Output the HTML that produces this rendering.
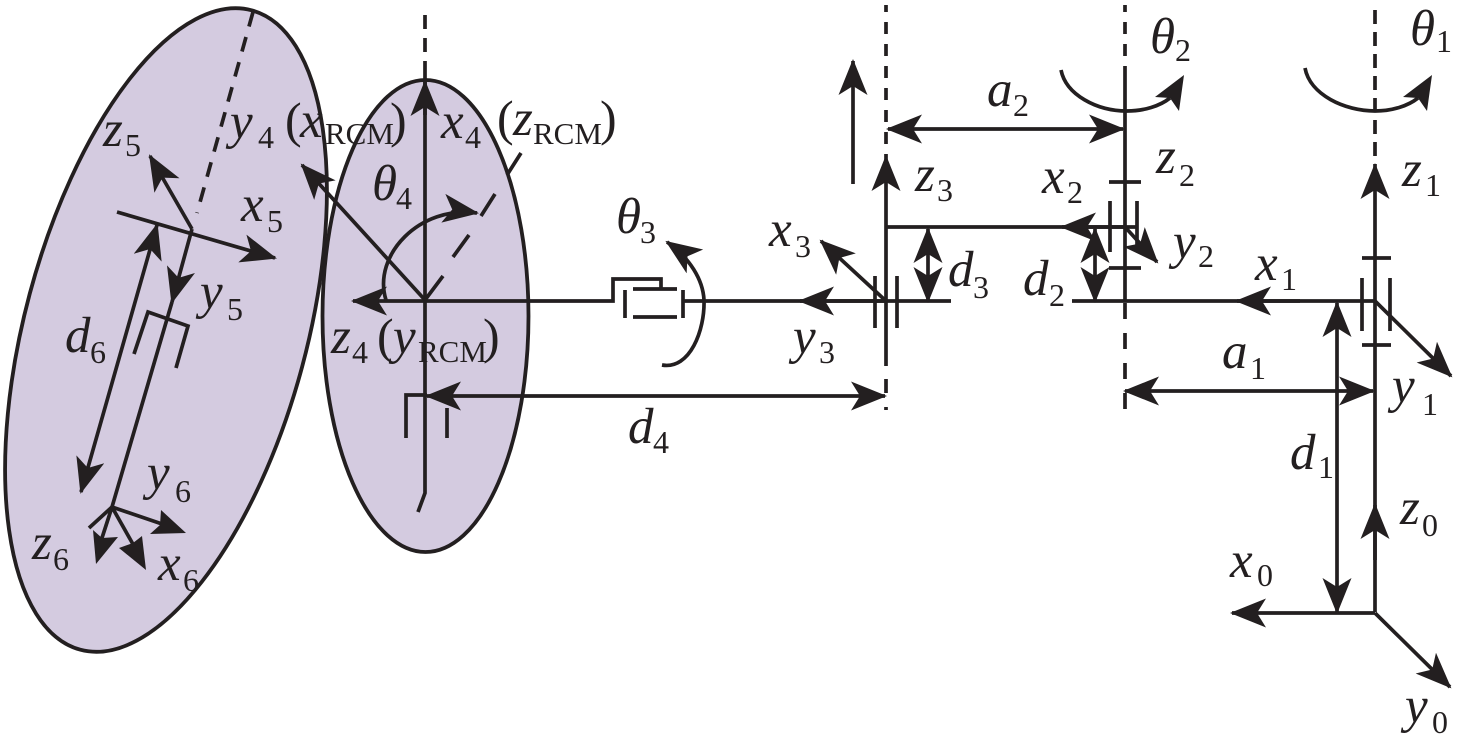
<!DOCTYPE html>
<html><head><meta charset="utf-8"><style>
html,body{margin:0;padding:0;background:#fff}
svg{display:block}
text{font-family:"Liberation Serif",serif;fill:#231f20}
.m{font-size:51px;font-style:italic}
.s{font-size:32px}
.p{font-size:50px}
.r{font-size:31px}
.l{fill:none;stroke:#231f20;stroke-width:3.7}
.d{fill:none;stroke:#231f20;stroke-width:3.7}
.h{fill:#231f20;stroke:none}
</style></head><body>
<svg width="1457" height="750" viewBox="0 0 1457 750" xmlns="http://www.w3.org/2000/svg">
<defs>
<marker id="a" markerUnits="userSpaceOnUse" markerWidth="40" markerHeight="34" refX="34" refY="17" orient="auto-start-reverse">
<path d="M36,17 L0,2.500 L9,17 L0,31.500 Z" fill="#231f20"/></marker>
</defs>
<rect width="1457" height="750" fill="#fff"/>

<!-- ellipses -->
<ellipse cx="166" cy="330" rx="141" ry="331" transform="rotate(15 166 330)" fill="#d4cbe0" stroke="#231f20" stroke-width="3.8"/>
<ellipse cx="425.500" cy="316" rx="103" ry="236" fill="#d4cbe0" stroke="#231f20" stroke-width="3.8"/>

<!-- tilted link -->
<path class="d" stroke-dasharray="15 11" d="M253,12 L197,213"/>
<path class="l" d="M117,212 L275,258" marker-end="url(#a)"/>
<path class="l" d="M192,229 L150,156" marker-end="url(#a)"/>
<path class="l" d="M192,229 L172,302" marker-end="url(#a)"/>
<path class="l" d="M172,302 L112,507"/>
<path class="l" d="M134,354 L148,312 L188,326 L176,368"/>
<path class="l" d="M157,225 L81,492" marker-start="url(#a)" marker-end="url(#a)"/>
<path class="l" d="M112,507 L165,525"/>
<polygon class="h" points="186,533 150,534 160,525 161,510"/>
<path class="l" d="M112,507 L134,546"/>
<polygon class="h" points="146,570 119,548 133,543 142,536"/>
<path class="l" d="M112,507 L101,541"/>
<polygon class="h" points="96,564 93,530 102,538 118,537"/>
<path class="l" d="M89,528 L112,507"/>

<!-- second ellipse axes -->
<path class="d" stroke-dasharray="14 9" d="M425,15 L425,67"/>
<path class="l" d="M425,67 L425,493 L418,512"/>
<path class="l" d="M425,115 L425,82" marker-end="url(#a)"/>
<path class="l" d="M425,301 L613,301 L613,279 L661,279 L661,289"/>
<path class="l" d="M425,301 L353,301" marker-end="url(#a)"/>
<path class="l" d="M425,300 L302,165" marker-end="url(#a)"/>
<path class="l" d="M425,300 L443,276 M453,257 L469,235 M481,216 L495,194 M507,175 L521,153"/>
<path class="l" d="M386,300 C372,255 420,205 477,213" marker-end="url(#a)"/>
<path class="l" d="M633,289 L677,289 M633,317 L677,317 M625,290 L625,318 M683,290 L683,318"/>
<path class="l" d="M662,365 C690,370 705,330 704,300 C703,280 690,258 667,242" marker-end="url(#a)"/>
<path class="l" d="M683,301 L951,301"/>
<path class="l" d="M886,301 L800,301" marker-end="url(#a)"/>
<path class="l" d="M406,438 L406,395 L427,395"/>
<path class="l" d="M447,408 L447,438"/>
<path class="l" d="M427,396 L885,396" marker-start="url(#a)" marker-end="url(#a)"/>

<!-- joint 3 column -->
<path class="d" stroke-dasharray="12 10" stroke-dashoffset="5" d="M886,5 L886,157"/>
<path class="d" d="M886,379 L886,393 M886,407 L886,410"/>
<path class="l" d="M886,366 L886,157" marker-end="url(#a)"/>
<path class="l" d="M853,184 L853,61" marker-end="url(#a)"/>
<path class="l" d="M875,276 L875,328 M897,276 L897,328"/>
<path class="l" d="M886,301 L821,241" marker-end="url(#a)"/>
<path class="l" d="M888,129 L1123,129" marker-start="url(#a)" marker-end="url(#a)"/>
<path class="l" d="M886,227 L1137,227"/>
<path class="l" d="M1125,227 L1062,227" marker-end="url(#a)"/>
<path class="l" d="M928,229 L928,301" marker-start="url(#a)" marker-end="url(#a)"/>

<!-- joint 2 column -->
<path class="d" stroke-dasharray="12 10" stroke-dashoffset="5" d="M1125,5 L1125,76"/>
<path class="d" stroke-dasharray="16 14" d="M1125,303 L1125,409"/>
<path class="l" d="M1125,76 L1125,301"/>
<path class="l" d="M1061,70 C1066,95 1097,111 1127,111 C1144,111 1160,106 1170,98"/>
<polygon class="h" points="1184,75 1155,97 1170,98 1179,111"/>
<path class="l" d="M1109,182 L1141,182 M1109,268 L1141,268 M1110,201 L1110,252 M1137,201 L1137,252"/>
<path class="l" d="M1125,227 L1157,262" marker-end="url(#a)"/>
<path class="l" d="M1095,229 L1095,301" marker-start="url(#a)" marker-end="url(#a)"/>
<path class="l" d="M1072,301 L1375,301"/>
<path class="l" d="M1300,301 L1237,301" marker-end="url(#a)"/>
<path class="l" d="M1125,391 L1373,391" marker-start="url(#a)" marker-end="url(#a)"/>

<!-- joint 1 column -->
<path class="d" stroke-dasharray="14 8" d="M1375,10 L1375,165"/>
<path class="l" d="M1375,612 L1375,165" marker-end="url(#a)"/>
<path class="l" d="M1375,560 L1375,505" marker-end="url(#a)"/>
<path class="l" d="M1305,68 C1310,95 1345,111 1375,111 C1392,111 1408,106 1418,98"/>
<polygon class="h" points="1432,75 1403,97 1418,98 1427,111"/>
<path class="l" d="M1362,258 L1391,258 M1362,345 L1391,345 M1362,278 L1362,331 M1390,278 L1390,331"/>
<path class="l" d="M1375,301 L1451,376" marker-end="url(#a)"/>
<path class="l" d="M1337,303 L1337,612" marker-start="url(#a)" marker-end="url(#a)"/>
<path class="l" d="M1375,613 L1232,613" marker-end="url(#a)"/>
<path class="l" d="M1375,613 L1450,687" marker-end="url(#a)"/>

<!-- labels -->
<text class="m" x="1410" y="45">θ</text><text class="s" x="1436" y="52">1</text>
<text class="m" x="1150" y="53">θ</text><text class="s" x="1175" y="61">2</text>
<text class="m" x="1402" y="186">z</text><text class="s" x="1425" y="196">1</text>
<text class="m" x="1400" y="524">z</text><text class="s" x="1422" y="536">0</text>
<text class="m" x="1255" y="280">x</text><text class="s" x="1281" y="290">1</text>
<text class="m" x="1392" y="402">y</text><text class="s" x="1422" y="415">1</text>
<text class="m" x="1222" y="368">a</text><text class="s" x="1250" y="379">1</text>
<text class="m" x="1290" y="469">d</text><text class="s" x="1318" y="478">1</text>
<text class="m" x="1230" y="577">x</text><text class="s" x="1257" y="586">0</text>
<text class="m" x="1405" y="722">y</text><text class="s" x="1432" y="733">0</text>
<text class="m" x="1156" y="173">z</text><text class="s" x="1179" y="186">2</text>
<text class="m" x="1173" y="258">y</text><text class="s" x="1198" y="267">2</text>
<text class="m" x="1042" y="193">x</text><text class="s" x="1067" y="203">2</text>
<text class="m" x="987" y="106">a</text><text class="s" x="1013" y="116">2</text>
<text class="m" x="915" y="191">z</text><text class="s" x="937" y="201">3</text>
<text class="m" x="769" y="246">x</text><text class="s" x="795" y="257">3</text>
<text class="m" x="948" y="286">d</text><text class="s" x="973" y="298">3</text>
<text class="m" x="1023" y="295">d</text><text class="s" x="1049" y="306">2</text>
<text class="m" x="793" y="353">y</text><text class="s" x="819" y="363">3</text>
<text class="m" x="616" y="233">θ</text><text class="s" x="640" y="243">3</text>
<text class="m" x="628" y="443">d</text><text class="s" x="653" y="453">4</text>
<text class="m" x="372" y="200">θ</text><text class="s" x="396" y="209">4</text>
<text class="m" x="441" y="138">x</text><text class="s" x="465" y="148">4</text>
<text class="p" x="497" y="135">(</text><text class="m" x="513" y="135">z</text><text class="r" x="533" y="144">RCM</text><text class="p" x="600" y="135">)</text>
<text class="m" x="331" y="353">z</text><text class="s" x="352" y="363">4</text>
<text class="p" x="377" y="353">(</text><text class="m" x="393" y="353">y</text><text class="r" x="418" y="362">RCM</text><text class="p" x="483" y="353">)</text>
<text class="m" x="230" y="138">y</text><text class="s" x="258" y="148">4</text>
<text class="p" x="285" y="137">(</text><text class="m" x="300" y="137">x</text><text class="r" x="325" y="144">RCM</text><text class="p" x="390" y="137">)</text>
<text class="m" x="103" y="146">z</text><text class="s" x="125" y="156">5</text>
<text class="m" x="241" y="221">x</text><text class="s" x="267" y="232">5</text>
<text class="m" x="200" y="308">y</text><text class="s" x="227" y="320">5</text>
<text class="m" x="65" y="352">d</text><text class="s" x="90" y="363">6</text>
<text class="m" x="147" y="489">y</text><text class="s" x="175" y="502">6</text>
<text class="m" x="32" y="559">z</text><text class="s" x="53" y="570">6</text>
<text class="m" x="158" y="580">x</text><text class="s" x="183" y="591">6</text>
</svg>
</body></html>
